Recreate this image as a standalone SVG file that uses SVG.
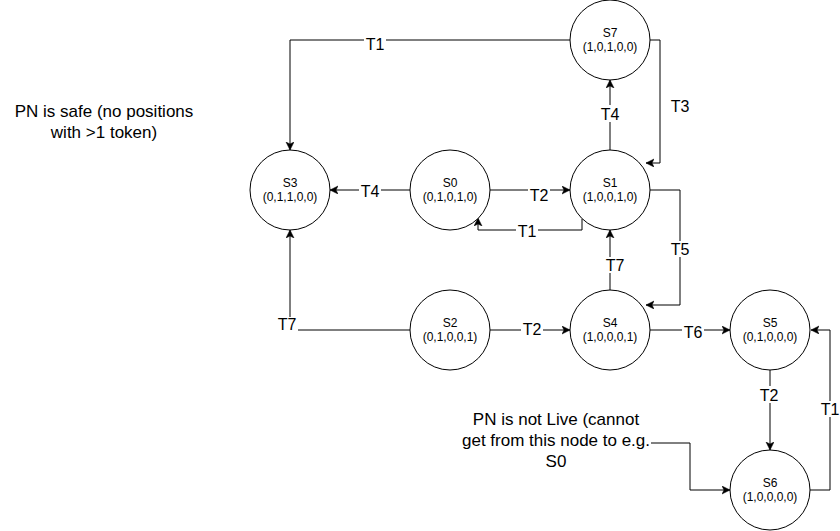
<svg xmlns="http://www.w3.org/2000/svg" width="840" height="531" viewBox="0 0 840 531">
<style>
.n{fill:#fff;stroke:#000;stroke-width:1}
.nt{font-family:"Liberation Sans",Arial,sans-serif;font-size:12px;text-anchor:middle;fill:#000}
.e{fill:none;stroke:#000;stroke-width:1}
.lb{font-family:"Liberation Sans",Arial,sans-serif;font-size:16px;text-anchor:middle;fill:#000}
.bg{fill:#fff}
.ann{font-family:"Liberation Sans",Arial,sans-serif;font-size:17px;text-anchor:middle;fill:#000}
</style>
<defs>
<marker id="a" markerWidth="10" markerHeight="10" refX="8" refY="4" orient="auto" markerUnits="userSpaceOnUse">
<path d="M0,0 L8,4 L0,8 L2,4 z" fill="#000" stroke="#000" stroke-width="0.5"/>
</marker>
</defs>
<rect width="840" height="531" fill="#fff"/>
<g id="connectors">
<path class="e" d="M570,40 H290 V150" marker-end="url(#a)"/>
<path class="e" d="M610,150 V80" marker-end="url(#a)"/>
<path class="e" d="M650,40 H660 V163 H646" marker-end="url(#a)"/>
<path class="e" d="M410,190 H330" marker-end="url(#a)"/>
<path class="e" d="M490,190 H570" marker-end="url(#a)"/>
<path class="e" d="M582,218.6 V230 H478 V218" marker-end="url(#a)"/>
<path class="e" d="M650,190 H680 V305 H646" marker-end="url(#a)"/>
<path class="e" d="M610,290 V230" marker-end="url(#a)"/>
<path class="e" d="M410,330 H290 V230" marker-end="url(#a)"/>
<path class="e" d="M490,330 H570" marker-end="url(#a)"/>
<path class="e" d="M650,330 H730" marker-end="url(#a)"/>
<path class="e" d="M770,370 V450" marker-end="url(#a)"/>
<path class="e" d="M810,490 H830 V330 H811" marker-end="url(#a)"/>
<path class="e" d="M651,443 H690 V490 H730" marker-end="url(#a)"/>
<g id="edge-labels">
<rect class="bg" x="364" y="36" width="22" height="16"/><text class="lb" x="375" y="50">T1</text>
<rect class="bg" x="599" y="105" width="22" height="17"/><text class="lb" x="610" y="120">T4</text>
<text class="lb" x="680" y="112">T3</text>
<rect class="bg" x="359" y="183" width="22" height="16"/><text class="lb" x="370" y="197">T4</text>
<rect class="bg" x="528" y="188" width="22" height="15"/><text class="lb" x="539" y="201">T2</text>
<rect class="bg" x="516" y="223" width="22" height="16"/><text class="lb" x="527" y="237">T1</text>
<rect class="bg" x="669" y="241" width="22" height="16"/><text class="lb" x="680" y="255">T5</text>
<rect class="bg" x="604" y="257" width="22" height="16"/><text class="lb" x="615" y="271">T7</text>
<rect class="bg" x="276" y="317" width="22" height="14"/><text class="lb" x="287" y="330">T7</text>
<rect class="bg" x="521" y="322" width="22" height="15"/><text class="lb" x="532" y="335">T2</text>
<rect class="bg" x="682" y="324" width="22" height="16"/><text class="lb" x="693" y="338">T6</text>
<rect class="bg" x="758" y="386" width="22" height="17"/><text class="lb" x="769" y="401">T2</text>
<rect class="bg" x="819" y="401" width="22" height="16"/><text class="lb" x="830" y="415">T1</text>
</g>
</g>
<g id="S7"><circle class="n" cx="610" cy="40" r="40"/><text class="nt" x="610" y="37">S7</text><text class="nt" x="610" y="51">(1,0,1,0,0)</text></g>
<g id="S3"><circle class="n" cx="290" cy="190" r="40"/><text class="nt" x="290" y="187">S3</text><text class="nt" x="290" y="201">(0,1,1,0,0)</text></g>
<g id="S0"><circle class="n" cx="450" cy="190" r="40"/><text class="nt" x="450" y="187">S0</text><text class="nt" x="450" y="201">(0,1,0,1,0)</text></g>
<g id="S1"><circle class="n" cx="610" cy="190" r="40"/><text class="nt" x="610" y="187">S1</text><text class="nt" x="610" y="201">(1,0,0,1,0)</text></g>
<g id="S2"><circle class="n" cx="450" cy="330" r="40"/><text class="nt" x="450" y="327">S2</text><text class="nt" x="450" y="341">(0,1,0,0,1)</text></g>
<g id="S4"><circle class="n" cx="610" cy="330" r="40"/><text class="nt" x="610" y="327">S4</text><text class="nt" x="610" y="341">(1,0,0,0,1)</text></g>
<g id="S5"><circle class="n" cx="770" cy="330" r="40"/><text class="nt" x="770" y="327">S5</text><text class="nt" x="770" y="341">(0,1,0,0,0)</text></g>
<g id="S6"><circle class="n" cx="770" cy="490" r="40"/><text class="nt" x="770" y="487">S6</text><text class="nt" x="770" y="501">(1,0,0,0,0)</text></g>
<g id="note-safe"><text class="ann" x="104" y="117">PN is safe (no positions</text><text class="ann" x="104" y="138">with &gt;1 token)</text></g>
<g id="note-live"><text class="ann" x="556" y="425">PN is not Live (cannot</text><text class="ann" x="556" y="446">get from this node to e.g.</text><text class="ann" x="556" y="467">S0</text></g>
</svg>
